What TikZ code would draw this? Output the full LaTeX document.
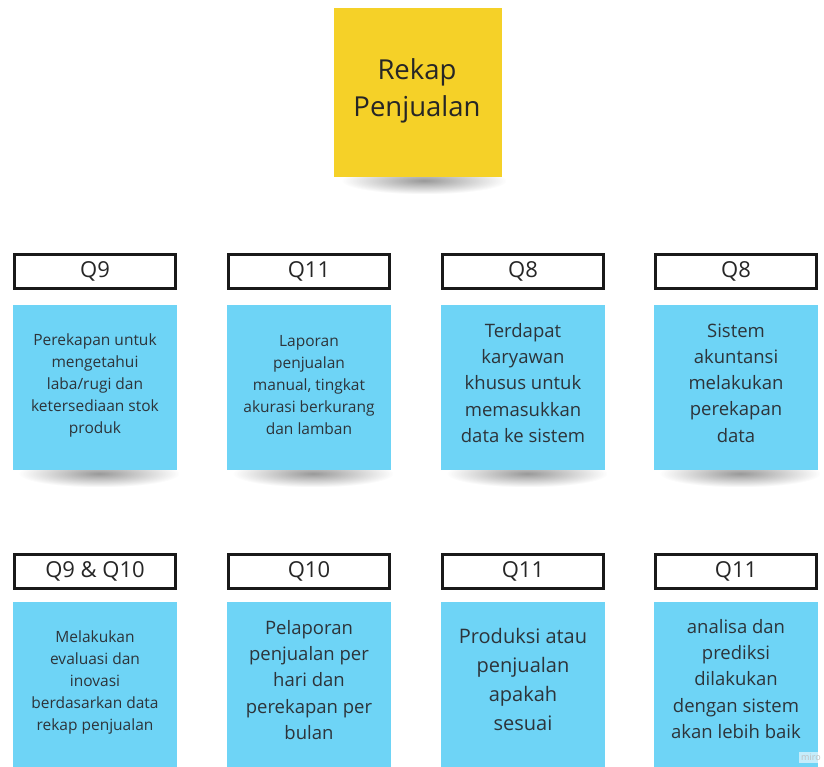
\documentclass[tikz,border=0pt]{standalone}
\usepackage{fontspec}
\setmainfont{Open Sans}
\usetikzlibrary{fadings}
\definecolor{stickyblue}{RGB}{110,212,246}
\definecolor{stickyyellow}{RGB}{245,209,40}
\definecolor{inktext}{RGB}{45,52,58}
\tikzfading[name=softshadow, inner color=transparent!0, outer color=transparent!100]
\tikzset{
  qlabel/.style={draw=black!90, line width=3pt, fill=white, minimum width=161pt, minimum height=34pt, inner sep=0pt, font=\fontsize{22}{24}\selectfont, text=black!85},
  bluenote/.style={fill=stickyblue, minimum width=164pt, minimum height=165pt, inner sep=0pt},
  notetext/.style={align=center, text=inktext, inner sep=0pt},
  smalltxt/.style={notetext, font=\fontsize{15.5}{22}\selectfont},
  midtxt/.style={notetext, font=\fontsize{18.5}{26.3}\selectfont},
  bigtxt/.style={notetext, font=\fontsize{20}{29}\selectfont},
  shadowblob/.style={fill=black!80, path fading=softshadow, opacity=0.5}
}
\begin{document}
\begin{tikzpicture}[x=1pt,y=-1pt]
\useasboundingbox (0,0) rectangle (824,767);
\fill[white] (0,0) rectangle (824,767);
\clip (0,0) rectangle (824,767);

% shadows
\foreach \cx in {95,309,523,736}{
  \fill[shadowblob] (\cx-76,460) rectangle (\cx+84,487);
}
\fill[shadowblob] (342,167) rectangle (506,194);

% title sticky
\node[fill=stickyyellow, minimum width=168pt, minimum height=169pt, inner sep=0pt] (title) at (418,92.5) {};
\node[notetext, font=\fontsize{27.5}{37}\selectfont, text=black!85] (titletxt) at (417,91) {Rekap\\Penjualan};

% row 1 labels
\node[qlabel] (l1) at (95,271.5) {Q9};
\node[qlabel] (l2) at (309,271.5) {Q11};
\node[qlabel] (l3) at (523,271.5) {Q8};
\node[qlabel] (l4) at (736,271.5) {Q8};

% row 1 notes
\node[bluenote] (n1) at (95,387.5) {};
\node[bluenote] (n2) at (309,387.5) {};
\node[bluenote] (n3) at (523,387.5) {};
\node[bluenote] (n4) at (736,387.5) {};
\node[smalltxt] (t1) at (95,385) {Perekapan untuk\\mengetahui\\laba/rugi dan\\ketersediaan stok\\produk};
\node[smalltxt] (t2) at (309,385) {Laporan\\penjualan\\manual, tingkat\\akurasi berkurang\\dan lamban};
\node[midtxt] (t3) at (523,383) {Terdapat\\karyawan\\khusus untuk\\memasukkan\\data ke sistem};
\node[midtxt] (t4) at (736,383) {Sistem\\akuntansi\\melakukan\\perekapan\\data};

% row 2 labels
\node[qlabel] (l5) at (95,571.5) {Q9 \& Q10};
\node[qlabel] (l6) at (309,571.5) {Q10};
\node[qlabel] (l7) at (523,571.5) {Q11};
\node[qlabel] (l8) at (736,571.5) {Q11};

% row 2 notes
\node[bluenote] (n5) at (95,684.5) {};
\node[bluenote] (n6) at (309,684.5) {};
\node[bluenote] (n7) at (523,684.5) {};
\node[bluenote] (n8) at (736,684.5) {};
\node[smalltxt] (t5) at (95,682) {Melakukan\\evaluasi dan\\inovasi\\berdasarkan data\\rekap penjualan};
\node[midtxt] (t6) at (309,680) {Pelaporan\\penjualan per\\hari dan\\perekapan per\\bulan};
\node[bigtxt] (t7) at (523,679) {Produksi atau\\penjualan\\apakah\\sesuai};
\node[midtxt] (t8) at (736,679) {analisa dan\\prediksi\\dilakukan\\dengan sistem\\akan lebih baik};

\node[fill=white, opacity=0.6, text opacity=1, text=black!25, font=\fontsize{9}{10}\selectfont, anchor=north east, inner sep=2pt] (wm) at (823,752) {miro};
\end{tikzpicture}
\end{document}
